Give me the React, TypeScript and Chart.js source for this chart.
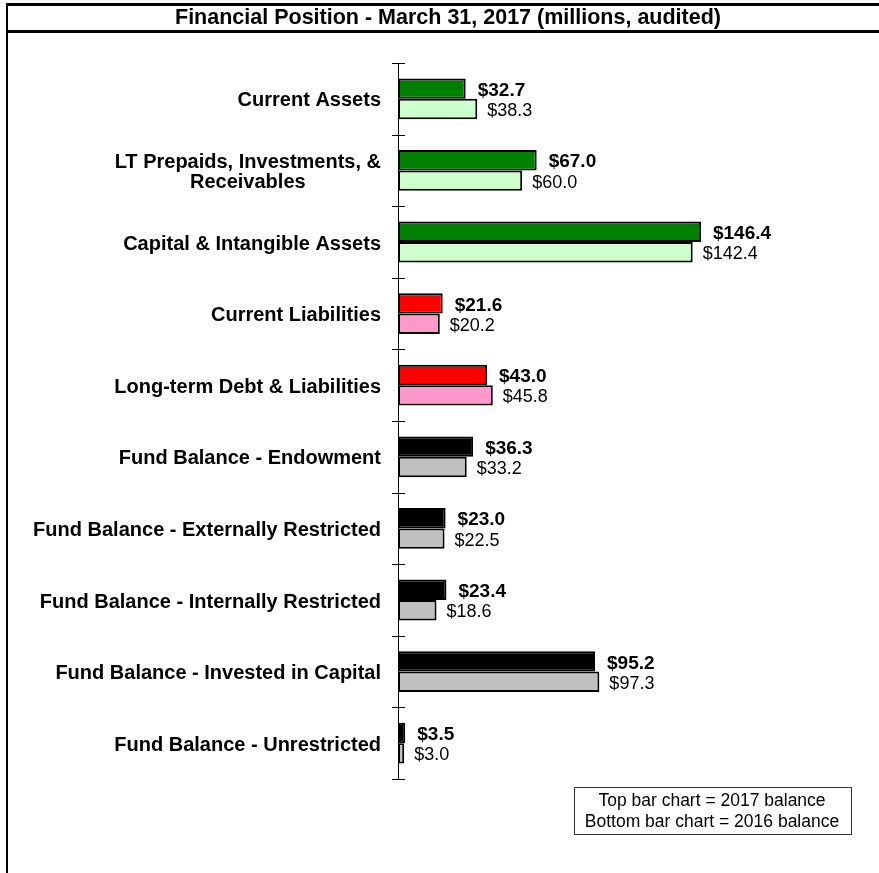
import React, { useEffect, useRef } from "react";
import { Chart, registerables } from "chart.js";

Chart.register(...registerables);

const TITLE = "Financial Position - March 31, 2017 (millions, audited)";
const CATEGORIES: string[][] = [
  ["Current Assets"],
  ["LT Prepaids, Investments, &", "Receivables"],
  ["Capital & Intangible Assets"],
  ["Current Liabilities"],
  ["Long-term Debt & Liabilities"],
  ["Fund Balance - Endowment"],
  ["Fund Balance - Externally Restricted"],
  ["Fund Balance - Internally Restricted"],
  ["Fund Balance - Invested in Capital"],
  ["Fund Balance - Unrestricted"],
];
const BALANCE_2017 = [32.7, 67.0, 146.4, 21.6, 43.0, 36.3, 23.0, 23.4, 95.2, 3.5];
const BALANCE_2016 = [38.3, 60.0, 142.4, 20.2, 45.8, 33.2, 22.5, 18.6, 97.3, 3.0];
const GROUP = ["asset", "asset", "asset", "liab", "liab", "fund", "fund", "fund", "fund", "fund"];
const COLORS_2017: Record<string, string> = { asset: "#008000", liab: "#FF0000", fund: "#000000" };
const COLORS_2016: Record<string, string> = { asset: "#CCFFCC", liab: "#FF99CC", fund: "#C0C0C0" };
const LEGEND_LINES = ["Top bar chart = 2017 balance", "Bottom bar chart = 2016 balance"];
const X_MAX = 230;

const FONT = '"Liberation Sans", Arial, sans-serif';

const decorPlugin = {
  id: "decor",
  beforeDraw(chart: any) {
    const ctx = chart.ctx as CanvasRenderingContext2D;
    ctx.save();
    ctx.fillStyle = "#ffffff";
    ctx.fillRect(0, 0, chart.width, chart.height);
    ctx.restore();
  },
  afterDraw(chart: any) {
    const ctx = chart.ctx as CanvasRenderingContext2D;
    const area = chart.chartArea;
    const yScale = chart.scales.y;
    const n = CATEGORIES.length;
    ctx.save();
    // frame
    ctx.fillStyle = "#000000";
    ctx.fillRect(6, 3, chart.width - 6, 3);
    ctx.fillRect(6, 30, chart.width - 6, 3);
    ctx.fillRect(6, 3, 2, chart.height - 3);
    // title
    ctx.font = `bold 21.5px ${FONT}`;
    ctx.textAlign = "center";
    ctx.textBaseline = "middle";
    ctx.fillText(TITLE, 448, 18);

    // axis line
    const axisX = area.left + 0.5;
    ctx.strokeStyle = "#000000";
    ctx.lineWidth = 1;
    ctx.beginPath();
    ctx.moveTo(axisX, area.top);
    ctx.lineTo(axisX, area.bottom);
    ctx.stroke();
    // boundary ticks
    const step = yScale.getPixelForValue(1) - yScale.getPixelForValue(0);
    for (let i = 0; i <= n; i++) {
      const y = Math.round(yScale.getPixelForValue(i) - step / 2) + 0.5;
      ctx.beginPath();
      ctx.moveTo(area.left - 6, y);
      ctx.lineTo(area.left + 7, y);
      ctx.stroke();
    }
    // category labels (block right-aligned, lines centered)
    ctx.font = `bold 20px ${FONT}`;
    ctx.textBaseline = "middle";
    ctx.textAlign = "center";
    const rightEdge = area.left - 17;
    const lineH = 20;
    for (let i = 0; i < n; i++) {
      const lines = CATEGORIES[i];
      const w = Math.max(...lines.map((l) => ctx.measureText(l).width));
      const cx = rightEdge - w / 2;
      const cy = yScale.getPixelForValue(i) + 2;
      lines.forEach((l, k) => {
        const y = cy + (k - (lines.length - 1) / 2) * lineH;
        ctx.fillText(l, cx, y);
      });
    }
    // value labels
    ctx.textAlign = "left";
    const meta0 = chart.getDatasetMeta(0);
    const meta1 = chart.getDatasetMeta(1);
    for (let i = 0; i < n; i++) {
      const b0 = meta0.data[i];
      const b1 = meta1.data[i];
      ctx.font = `bold 19px ${FONT}`;
      ctx.fillText(`$${BALANCE_2017[i].toFixed(1)}`, b0.x + 12, b0.y + 2);
      ctx.font = `18px ${FONT}`;
      ctx.fillText(`$${BALANCE_2016[i].toFixed(1)}`, b1.x + 10, b1.y + 2);
    }
    // legend box
    ctx.strokeStyle = "#333333";
    ctx.lineWidth = 1;
    ctx.strokeRect(574.5, 787.5, 277, 47);
    ctx.font = `17.5px ${FONT}`;
    ctx.textAlign = "center";
    ctx.fillStyle = "#000000";
    ctx.fillText(LEGEND_LINES[0], 712, 801);
    ctx.fillText(LEGEND_LINES[1], 712, 822);
    ctx.restore();
  },
};

export default function App() {
  const ref = useRef<HTMLCanvasElement | null>(null);
  useEffect(() => {
    if (!ref.current) return;
    const chart = new Chart(ref.current, {
      type: "bar",
      data: {
        labels: CATEGORIES.map((c) => c.join(" ")),
        datasets: [
          {
            label: "2017",
            data: BALANCE_2017,
            backgroundColor: GROUP.map((g) => COLORS_2017[g]),
            borderColor: "#000000",
            borderWidth: 2,
            borderSkipped: false,
            categoryPercentage: 0.57,
            barPercentage: 1,
          },
          {
            label: "2016",
            data: BALANCE_2016,
            backgroundColor: GROUP.map((g) => COLORS_2016[g]),
            borderColor: "#000000",
            borderWidth: 2,
            borderSkipped: false,
            categoryPercentage: 0.57,
            barPercentage: 1,
          },
        ],
      },
      options: {
        indexAxis: "y",
        responsive: false,
        animation: false,
        devicePixelRatio: 1,
        layout: { padding: { left: 398, top: 63, right: 5, bottom: 94 } },
        plugins: { legend: { display: false }, tooltip: { enabled: false }, title: { display: false } },
        scales: {
          x: { display: false, min: 0, max: X_MAX },
          y: { display: false, offset: true },
        },
      },
      plugins: [decorPlugin],
    });
    return () => chart.destroy();
  }, []);
  return (
    <div style={{ position: "absolute", left: 0, top: 0, width: 879, height: 873 }}>
      <canvas ref={ref} width={879} height={873} style={{ display: "block" }} />
    </div>
  );
}
